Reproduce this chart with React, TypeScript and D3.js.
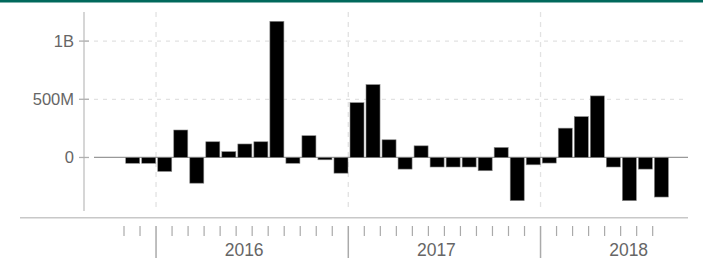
import * as d3 from 'd3'

// monthly categories, Nov 2015 .. Aug 2018
const months: string[] = [
  '2015-11', '2015-12',
  '2016-01', '2016-02', '2016-03', '2016-04', '2016-05', '2016-06',
  '2016-07', '2016-08', '2016-09', '2016-10', '2016-11', '2016-12',
  '2017-01', '2017-02', '2017-03', '2017-04', '2017-05', '2017-06',
  '2017-07', '2017-08', '2017-09', '2017-10', '2017-11', '2017-12',
  '2018-01', '2018-02', '2018-03', '2018-04', '2018-05', '2018-06',
  '2018-07', '2018-08',
]

// values in millions
const values: number[] = [
  -50, -50,
  -120, 236, -221, 135, 50, 116, 135, 1170, -50, 187, -20, -135,
  471, 626, 152, -100, 100, -82, -82, -82, -114, 86, -371, -63,
  -48, 252, 351, 529, -82, -371, -100, -340,
]

const yTicks: number[] = [0, 500, 1000]
const yTickLabels: string[] = ['0', '500M', '1B']
const years: string[] = ['2016', '2017', '2018']

const W = 708
const H = 263
const font = '"Liberation Sans", Arial, sans-serif'

export default function App() {
  const x = d3.scaleBand<string>().domain(months).range([124, 668.7]).padding(0)
  const step = x.step()
  const y = d3.scaleLinear().domain([-460, 1250]).range([211, 12])

  const yearStarts = years.map(yr => x(`${yr}-01`) ?? 0)

  return (
    <svg
      width={W}
      height={H}
      style={{ position: 'absolute', left: 0, top: 0, background: '#fff' }}
    >
      <rect x={0} y={0} width={703} height={2.5} fill="#00695c" />

      {/* horizontal grid */}
      {yTicks.filter(t => t !== 0).map(t => (
        <line key={t} x1={85} x2={686} y1={y(t)} y2={y(t)}
          stroke="#e2e2e2" strokeWidth={1.3} strokeDasharray="4,5" />
      ))}
      {/* vertical grid at year starts */}
      {yearStarts.map((xs, i) => (
        <line key={i} x1={xs} x2={xs} y1={12} y2={210}
          stroke="#e2e2e2" strokeWidth={1.3} strokeDasharray="5,5" />
      ))}

      {/* y axis */}
      <line x1={84} x2={84} y1={12} y2={211} stroke="#c8c8c8" strokeWidth={1.5} />
      {yTicks.map((t, i) => (
        <g key={t}>
          <line x1={79} x2={89} y1={y(t)} y2={y(t)} stroke="#b0b0b0" strokeWidth={1.3} />
          <text x={74} y={y(t)} dy="0.36em" textAnchor="end"
            fontFamily={font} fontSize={16.5} fill="#666">{yTickLabels[i]}</text>
        </g>
      ))}

      {/* zero line */}
      <line x1={94} x2={688} y1={y(0)} y2={y(0)} stroke="#999" strokeWidth={1.3} />

      {/* bars */}
      {months.map((m, i) => {
        const v = values[i]
        const y0 = y(Math.max(0, v))
        const y1 = y(Math.min(0, v))
        return (
          <rect key={m} x={(x(m) ?? 0) + 1.7} width={step - 2}
            y={y0} height={Math.max(1, y1 - y0)}
            fill="#000" stroke="#888" strokeWidth={0.6} />
        )
      })}

      {/* x axis */}
      <line x1={20} x2={688} y1={217.7} y2={217.7} stroke="#c8c8c8" strokeWidth={1.5} />
      {months.map(m => {
        const xs = (x(m) ?? 0)
        const isYear = m.endsWith('-01')
        return (
          <line key={m} x1={xs} x2={xs} y1={226} y2={isYear ? 258 : 236}
            stroke="#aaa" strokeWidth={isYear ? 1.5 : 1.2} />
        )
      })}
      {years.map((yr, i) => (
        <text key={yr} x={yearStarts[i] + 5.5 * step} y={256} textAnchor="middle"
          fontFamily={font} fontSize={17.5} fill="#666">{yr}</text>
      ))}
    </svg>
  )
}
